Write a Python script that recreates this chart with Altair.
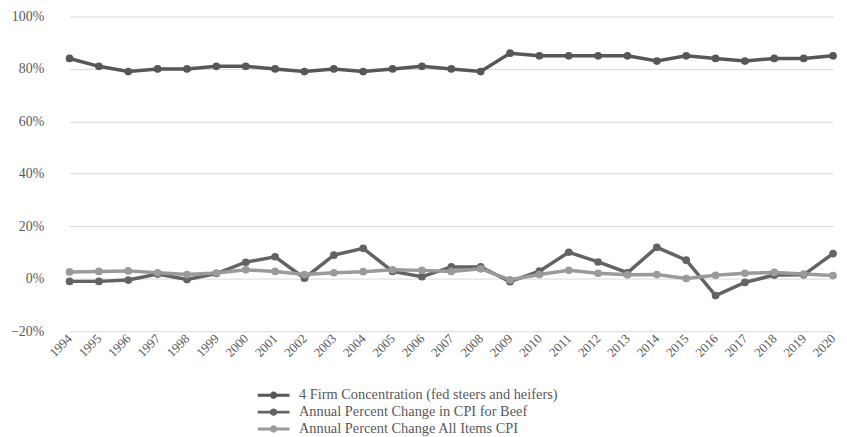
import altair as alt
import pandas as pd

years = [str(y) for y in range(1994, 2021)]
concentration = [84, 81, 79, 80, 80, 81, 81, 80, 79, 80, 79, 80, 81, 80, 79,
                 86, 85, 85, 85, 85, 83, 85, 84, 83, 84, 84, 85]
beef_cpi = [-1.0, -1.0, -0.5, 1.8, -0.3, 2.0, 6.3, 8.4, 0.2, 9.0, 11.6, 2.8, 0.8,
            4.5, 4.5, -1.1, 2.9, 10.1, 6.4, 2.3, 12.0, 7.1, -6.4, -1.4, 1.4, 1.5, 9.6]
all_cpi = [2.6, 2.8, 3.0, 2.3, 1.6, 2.2, 3.4, 2.8, 1.6, 2.3, 2.7, 3.4, 3.2, 2.8,
           3.8, -0.4, 1.6, 3.2, 2.1, 1.5, 1.6, 0.1, 1.3, 2.1, 2.4, 1.8, 1.2]

series_names = ["4 Firm Concentration (fed steers and heifers)",
                "Annual Percent Change in CPI for Beef",
                "Annual Percent Change All Items CPI"]
series_colors = ["#575757", "#636363", "#9a9a9a"]

rows = []
for i, y in enumerate(years):
    rows.append({"year": y, "series": series_names[0], "order": 0, "value": concentration[i] / 100})
    rows.append({"year": y, "series": series_names[1], "order": 1, "value": beef_cpi[i] / 100})
    rows.append({"year": y, "series": series_names[2], "order": 2, "value": all_cpi[i] / 100})
df = pd.DataFrame(rows)

FONT = "Liberation Serif"
TXT = "#595959"

legend_shape = "M-2.67,0L2.67,0M0.37,0A0.37,0.37 0 1 1 -0.37,0A0.37,0.37 0 1 1 0.37,0Z"

color = alt.Color(
    "series:N",
    scale=alt.Scale(domain=series_names, range=series_colors),
    legend=alt.Legend(
        title=None, orient="none", legendX=213, legendY=374, direction="vertical",
        symbolType=legend_shape, symbolSize=144, symbolStrokeWidth=3,
        labelFont=FONT, labelFontSize=14.5, labelColor=TXT, labelOffset=18,
        rowPadding=0, labelLimit=500,
    ),
)

x = alt.X("year:O", sort=years,
          scale=alt.Scale(type="point", range=[15, 784], padding=0),
          axis=alt.Axis(title=None, labelAngle=315, labelAlign="right", labelBaseline="middle",
                        labelFont=FONT, labelFontSize=13, labelColor=TXT, labelPadding=5,
                        ticks=False, domain=False, grid=False))
y = alt.Y("value:Q", scale=alt.Scale(domain=[-0.2, 1.0], nice=False),
          axis=alt.Axis(title=None, format=".0%", values=[-0.2, 0, 0.2, 0.4, 0.6, 0.8, 1.0],
                        labelFont=FONT, labelFontSize=14, labelColor=TXT, labelPadding=11,
                        ticks=False, domain=False, gridColor="#d9d9d9", gridWidth=1))

base = alt.Chart(df).encode(x=x, y=y, color=color, order=alt.Order("order:Q"))
lines = base.mark_line(strokeWidth=3.5)
points = base.mark_point(filled=True, size=60, opacity=1, shape="circle").encode(
    color=alt.Color("series:N", scale=alt.Scale(domain=series_names, range=series_colors), legend=None))

chart = alt.layer(lines, points).properties(
    width=784, height=317,
    autosize=alt.AutoSizeParams(type="none"),
    padding={"left": 47, "top": 7, "right": 6, "bottom": 104},
).configure(font=FONT).configure_view(stroke=None).configure_axis(
    labelFont=FONT
).configure_legend(labelFont=FONT)

chart.save("out.html", embed_options={"renderer": "svg", "actions": False})
